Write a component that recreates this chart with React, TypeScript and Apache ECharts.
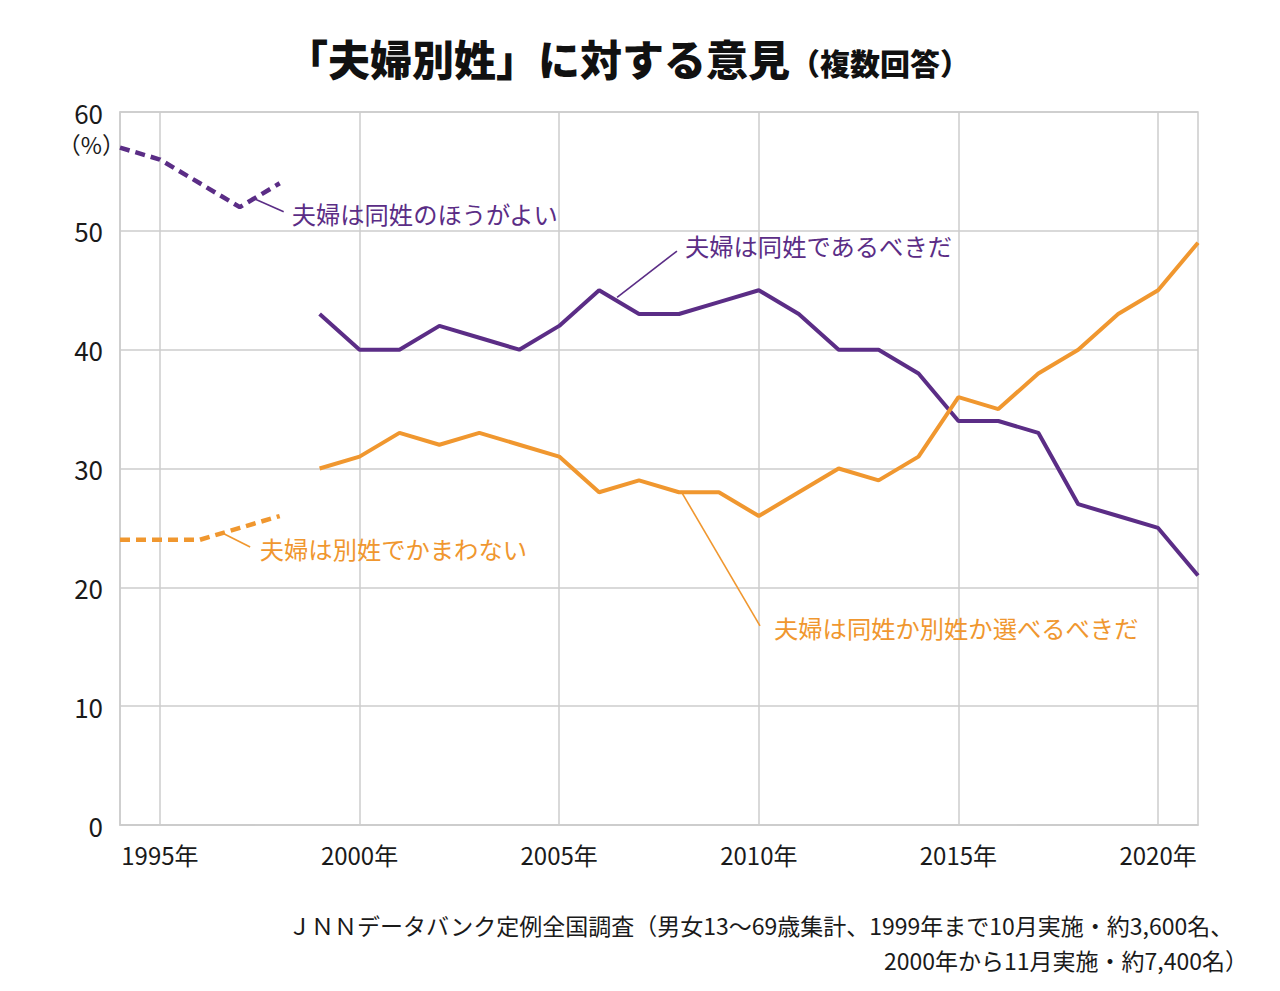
import React, { useEffect, useRef } from "react";
import * as echarts from "echarts";

// Survey years on the horizontal axis
const years = [
  "1994", "1995", "1996", "1997", "1998", "1999", "2000", "2001", "2002", "2003",
  "2004", "2005", "2006", "2007", "2008", "2009", "2010", "2011", "2012", "2013",
  "2014", "2015", "2016", "2017", "2018", "2019", "2020", "2021",
];

// Older question wording (1994–1998)
const earlyYears = ["1994", "1995", "1996", "1997", "1998"];
const sameBetter = [57, 56, 54, 52, 54]; // 夫婦は同姓のほうがよい
const separateOk = [24, 24, 24, 25, 26]; // 夫婦は別姓でかまわない

// Current question wording (1999–2021)
const laterYears = [
  "1999", "2000", "2001", "2002", "2003", "2004", "2005", "2006", "2007", "2008",
  "2009", "2010", "2011", "2012", "2013", "2014", "2015", "2016", "2017", "2018",
  "2019", "2020", "2021",
];
const sameShould = [43, 40, 40, 42, 41, 40, 42, 45, 43, 43, 44, 45, 43, 40, 40, 38, 34, 34, 33, 27, 26, 25, 21]; // 夫婦は同姓であるべきだ
const chooseShould = [30, 31, 33, 32, 33, 32, 31, 28, 29, 28, 28, 26, 28, 30, 29, 31, 36, 35, 38, 40, 43, 45, 49]; // 夫婦は同姓か別姓か選べるべきだ

const yTicks = [0, 10, 20, 30, 40, 50, 60];

const PURPLE = "#5b2d86";
const ORANGE = "#f0972f";
const GRID = "#cccccc";
const FONT = "'Noto Sans CJK JP', 'Noto Sans', sans-serif";

// Spread a partial series over the full year list
const alignTo = (subYears: string[], values: number[]) =>
  years.map((y) => {
    const i = subYears.indexOf(y);
    return i >= 0 ? values[i] : null;
  });

// Callout labels: leader line from → to (in year / percent), text anchored at "at"
const callouts = [
  { text: "夫婦は同姓のほうがよい", color: PURPLE, from: [1997.3, 52.8], to: [1998.1, 51.6], at: [1998.3, 51.5] },
  { text: "夫婦は同姓であるべきだ", color: PURPLE, from: [2006.45, 44.4], to: [2007.95, 48.3], at: [2008.15, 48.75] },
  { text: "夫婦は別姓でかまわない", color: ORANGE, from: [1996.55, 24.6], to: [1997.26, 23.4], at: [1997.5, 23.25] },
  { text: "夫婦は同姓か別姓か選べるべきだ", color: ORANGE, from: [2008.05, 28.1], to: [2010.03, 16.75], at: [2010.38, 16.65] },
];

const everyFifth = (_: number, v: string) => Number(v) % 5 === 0;

export default function App() {
  const ref = useRef<HTMLDivElement>(null);

  useEffect(() => {
    document.body.style.margin = "0";
    const chart = echarts.init(ref.current!, null, { renderer: "svg" });

    chart.setOption({
      animation: false,
      backgroundColor: "#ffffff",
      textStyle: { fontFamily: FONT },
      grid: {
        left: 120,
        right: 82,
        top: 112,
        bottom: 166,
        show: true,
        borderColor: GRID,
        borderWidth: 1.5,
      },
      xAxis: {
        type: "category",
        data: years,
        boundaryGap: false,
        axisLine: { lineStyle: { color: GRID, width: 1.5 } },
        axisTick: { show: false },
        axisLabel: {
          interval: everyFifth,
          formatter: (v: string) => `${v}年`,
          fontSize: 24,
          color: "#1a1a1a",
          margin: 17,
          fontFamily: FONT,
        },
        splitLine: { show: true, interval: everyFifth, lineStyle: { color: GRID, width: 1.5 } },
      },
      yAxis: {
        type: "value",
        min: yTicks[0],
        max: yTicks[yTicks.length - 1],
        interval: 10,
        axisLine: { show: true, lineStyle: { color: GRID, width: 1.5 } },
        axisTick: { show: false },
        axisLabel: {
          fontSize: 26,
          color: "#1a1a1a",
          margin: 17,
          fontFamily: FONT,
          lineHeight: 24,
          padding: [0, 0, 6, 0],
        },
        splitLine: { show: true, lineStyle: { color: GRID, width: 1.5 } },
      },
      series: [
        {
          name: "夫婦は同姓のほうがよい",
          type: "line",
          data: alignTo(earlyYears, sameBetter),
          showSymbol: false,
          symbol: "none",
          lineStyle: { color: PURPLE, width: 4.5, type: [10, 6] },
        },
        {
          name: "夫婦は別姓でかまわない",
          type: "line",
          data: alignTo(earlyYears, separateOk),
          showSymbol: false,
          symbol: "none",
          lineStyle: { color: ORANGE, width: 4.5, type: [10, 6] },
        },
        {
          name: "夫婦は同姓であるべきだ",
          type: "line",
          data: alignTo(laterYears, sameShould),
          showSymbol: false,
          symbol: "none",
          lineStyle: { color: PURPLE, width: 4 },
        },
        {
          name: "夫婦は同姓か別姓か選べるべきだ",
          type: "line",
          data: alignTo(laterYears, chooseShould),
          showSymbol: false,
          symbol: "none",
          lineStyle: { color: ORANGE, width: 4 },
        },
      ],
    });

    // Map fractional years / percents to pixels through the axes
    const firstYear = Number(years[0]);
    const lastYear = Number(years[years.length - 1]);
    const xa = chart.convertToPixel({ xAxisIndex: 0 }, years[0]) as number;
    const xb = chart.convertToPixel({ xAxisIndex: 0 }, years[years.length - 1]) as number;
    const px = (yr: number, v: number): [number, number] => [
      xa + ((yr - firstYear) / (lastYear - firstYear)) * (xb - xa),
      chart.convertToPixel({ yAxisIndex: 0 }, v) as number,
    ];
    const topY = chart.convertToPixel({ yAxisIndex: 0 }, yTicks[yTicks.length - 1]) as number;

    const graphic: any[] = [
      {
        type: "text",
        left: 286,
        top: 36,
        style: { text: "「夫婦別姓」に対する意見", font: `900 42px ${FONT}`, fill: "#111" },
      },
      {
        type: "text",
        left: 790,
        top: 47,
        style: { text: "（複数回答）", font: `900 30px ${FONT}`, fill: "#111" },
      },
      {
        type: "text",
        x: xa + 5,
        y: topY + 32,
        style: {
          text: "（%）",
          font: `23px ${FONT}`,
          lineHeight: 22,
          fill: "#1a1a1a",
          align: "right",
          verticalAlign: "middle",
        },
      },
      {
        type: "text",
        x: 288,
        y: 925,
        style: {
          text: "ＪＮＮデータバンク定例全国調査（男女13〜69歳集計、1999年まで10月実施・約3,600名、",
          font: `23px ${FONT}`,
          lineHeight: 24,
          fill: "#1a1a1a",
          verticalAlign: "middle",
        },
      },
      {
        type: "text",
        x: 884,
        y: 960,
        style: {
          text: "2000年から11月実施・約7,400名）",
          font: `23px ${FONT}`,
          lineHeight: 24,
          fill: "#1a1a1a",
          verticalAlign: "middle",
        },
      },
    ];

    callouts.forEach((c) => {
      const [x1, y1] = px(c.from[0], c.from[1]);
      const [x2, y2] = px(c.to[0], c.to[1]);
      const [tx, ty] = px(c.at[0], c.at[1]);
      graphic.push({
        type: "line",
        shape: { x1, y1, x2, y2 },
        style: { stroke: c.color, lineWidth: 1.6 },
        z: 10,
      });
      graphic.push({
        type: "text",
        x: tx,
        y: ty,
        style: { text: c.text, font: `24.3px ${FONT}`, fill: c.color, align: "left", verticalAlign: "middle" },
        z: 10,
      });
    });

    chart.setOption({ graphic });

    return () => chart.dispose();
  }, []);

  return (
    <div
      ref={ref}
      style={{ position: "absolute", left: 0, top: 0, width: 1280, height: 991, background: "#fff" }}
    />
  );
}
